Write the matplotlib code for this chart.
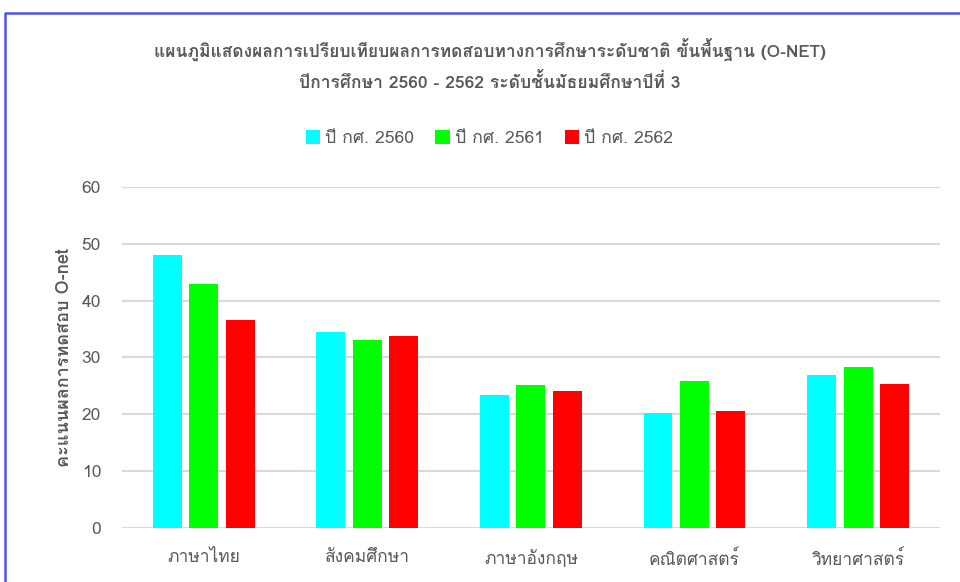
import matplotlib
matplotlib.use("Agg")
import matplotlib.pyplot as plt
import numpy as np
from matplotlib import font_manager as fm
from matplotlib.ft2font import FT2Font
from matplotlib.lines import Line2D

# ข้อมูลจากกราฟ
subjects = ["ภาษาไทย", "สังคมศึกษา", "ภาษาอังกฤษ", "คณิตศาสตร์", "วิทยาศาสตร์"]
years = ["ปี กศ. 2560", "ปี กศ. 2561", "ปี กศ. 2562"]
score_2560 = [48.0, 34.5, 23.4, 20.2, 26.9]
score_2561 = [43.0, 33.1, 25.2, 25.8, 28.3]
score_2562 = [36.5, 33.8, 24.0, 20.6, 25.3]
colors = ["#00FFFF", "#00FF00", "#FF0000"]


def find_thai_font():
    # หาฟอนต์ที่มีอักษรไทย
    for f in fm.fontManager.ttflist:
        try:
            if 0x0E01 in FT2Font(f.fname).get_charmap():
                return f.name
        except Exception:
            pass
    return None


thai = find_thai_font()
fams = ([thai] if thai else []) + ["DejaVu Sans"]
plt.rcParams['font.family'] = fams

grey = "#595959"

fig = plt.figure(figsize=(9.6, 5.82), dpi=100)
ax = fig.add_axes([0.127, 0.0936, 0.852, 0.585])

x = np.arange(len(subjects))
w = 0.177
step = 0.223
for i, (vals, lab, c) in enumerate(zip([score_2560, score_2561, score_2562], years, colors)):
    ax.bar(x + (i - 1) * step, vals, width=w, color=c, label=lab, zorder=3)

ax.set_xlim(-0.5, len(subjects) - 0.5)
ax.set_ylim(0, 60)
ax.set_yticks(range(0, 61, 10))
ax.grid(axis="y", color="#D9D9D9", linewidth=1.5, zorder=0)
for s in ax.spines.values():
    s.set_visible(False)
ax.tick_params(length=0, colors=grey, labelsize=12.5)
ax.tick_params(axis="y", pad=15)
ax.tick_params(axis="x", pad=16)
ax.set_xticks(x)
ax.set_xticklabels(subjects)
ax.set_ylabel("คะแนนผลการทดสอบ O-net", fontsize=13, fontweight="bold", color=grey, labelpad=6)

fig.text(0.51, 0.915, "แผนภูมิแสดงผลการเปรียบเทียบผลการทดสอบทางการศึกษาระดับชาติ ขั้นพื้นฐาน (O-NET)",
         ha="center", va="center", fontsize=12.5, fontweight="bold", color=grey)
fig.text(0.51, 0.86, "ปีการศึกษา 2560 - 2562 ระดับชั้นมัธยมศึกษาปีที่ 3",
         ha="center", va="center", fontsize=12.6, fontweight="bold", color=grey)

fig.legend(loc="center", bbox_to_anchor=(0.51, 0.762), ncol=3, frameon=False,
           handlelength=0.8, handleheight=0.8, handletextpad=0.3, columnspacing=1.2,
           fontsize=12.7, labelcolor=grey)

# กรอบสีน้ำเงิน
H = 582.0
W = 960.0
fig.add_artist(Line2D([5 / W, 5 / W, 1.0], [0.0, 1 - 13 / H, 1 - 13 / H],
                      transform=fig.transFigure, color="#4F4FF5", linewidth=1.8))

fig.savefig("out.png", dpi=100)
